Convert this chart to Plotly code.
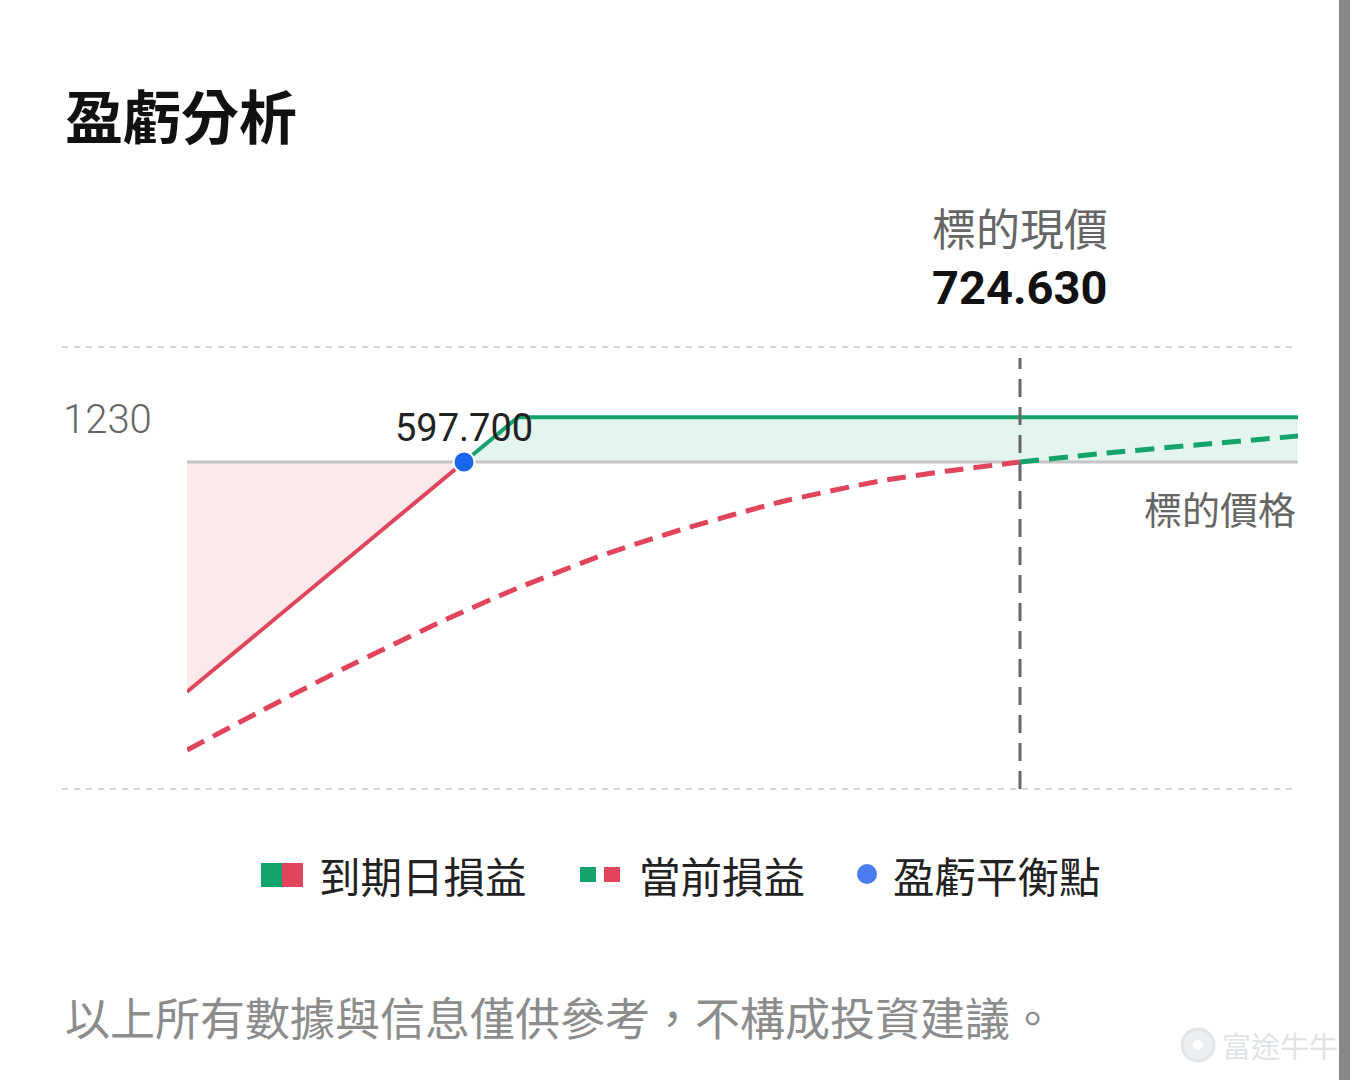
import plotly.graph_objects as go

# ---------------- data ----------------
x_min, x_max = 534.46, 788.1          # visible price range
y_min, y_max = -8998, 3165            # visible P&L range
breakeven = 597.7
spot = 724.63
max_profit = 1230

expiry_loss_price = [534.46, 597.7]
expiry_loss_pnl = [-6324, 0]
expiry_gain_price = [597.7, 610.0, 788.1]
expiry_gain_pnl = [0, 1230, 1230]

cur_loss_price = [534.5, 551.8, 571.0, 593.8, 608.9, 628.8, 647.0, 669.9, 692.7, 708.0, 724.63]
cur_loss_pnl = [-7925, -6824, -5641, -4321, -3522, -2587, -1871, -1101, -523, -248, 0]
cur_gain_price = [724.63, 744.5, 767.3, 788.1]
cur_gain_pnl = [0, 248, 495, 715]

title_text = "盈虧分析"
spot_label = "標的現價"
axis_label = "標的價格"
legend_labels = ["到期日損益", "當前損益", "盈虧平衡點"]
footer_text = "以上所有數據與信息僅供參考，不構成投資建議。"
watermark = "富途牛牛"

# ---------------- styles ----------------
RED = "#e0455c"
GREEN = "#14a36b"
BLUE = "#1a66ee"
CJK = "Noto Sans CJK TC"
NUM = "Roboto"

W, H = 1360, 1080
L, R, T, B = 187, 62, 347, 291
PW, PH = W - L - R, H - T - B


def xp(px):
    return (px - L) / PW


def yp(py):
    return (H - B - py) / PH


fig = go.Figure()

# fills
fig.add_trace(go.Scatter(x=expiry_loss_price, y=expiry_loss_pnl, fill="tozeroy",
                         fillcolor="#fce9eb", line=dict(width=0), mode="lines", hoverinfo="skip"))
fig.add_trace(go.Scatter(x=expiry_gain_price, y=expiry_gain_pnl, fill="tozeroy",
                         fillcolor="#e4f4ee", line=dict(width=0), mode="lines", hoverinfo="skip"))
# zero line
fig.add_trace(go.Scatter(x=[x_min, x_max], y=[0, 0], mode="lines",
                         line=dict(color="#c3c3c8", width=3), hoverinfo="skip"))
# expiry P&L
fig.add_trace(go.Scatter(x=expiry_loss_price, y=expiry_loss_pnl, mode="lines",
                         line=dict(color=RED, width=4)))
fig.add_trace(go.Scatter(x=expiry_gain_price, y=expiry_gain_pnl, mode="lines",
                         line=dict(color=GREEN, width=4)))
# current P&L
fig.add_trace(go.Scatter(x=cur_loss_price, y=cur_loss_pnl, mode="lines",
                         line=dict(color=RED, width=5, dash="19px,10px", shape="spline", smoothing=0.6)))
fig.add_trace(go.Scatter(x=cur_gain_price, y=cur_gain_pnl, mode="lines",
                         line=dict(color=GREEN, width=5, dash="19px,10px", shape="spline", smoothing=0.6)))
# breakeven
fig.add_trace(go.Scatter(x=[breakeven], y=[0], mode="markers",
                         marker=dict(color=BLUE, size=21, line=dict(color="white", width=2))))

shapes = []
# dotted grid lines top & bottom
for yy in (1, 0):
    shapes.append(dict(type="line", xref="paper", yref="paper", x0=xp(62), x1=1, y0=yy, y1=yy,
                       line=dict(color="#d6d6d6", width=2, dash="6px,6px")))
# spot vertical line
shapes.append(dict(type="line", xref="x", yref="paper", x0=spot, x1=spot, y0=0, y1=yp(358),
                   line=dict(color="#666666", width=3, dash="18px,10px")))
# legend icons
shapes.append(dict(type="rect", xref="paper", yref="paper", x0=xp(261), x1=xp(282), y0=yp(887), y1=yp(863),
                   fillcolor=GREEN, line=dict(width=0)))
shapes.append(dict(type="rect", xref="paper", yref="paper", x0=xp(282), x1=xp(303), y0=yp(887), y1=yp(863),
                   fillcolor=RED, line=dict(width=0)))
shapes.append(dict(type="rect", xref="paper", yref="paper", x0=xp(580), x1=xp(596), y0=yp(882), y1=yp(867),
                   fillcolor=GREEN, line=dict(width=0)))
shapes.append(dict(type="rect", xref="paper", yref="paper", x0=xp(604), x1=xp(620), y0=yp(882), y1=yp(867),
                   fillcolor=RED, line=dict(width=0)))
shapes.append(dict(type="circle", xref="paper", yref="paper", x0=xp(857), x1=xp(877), y0=yp(884), y1=yp(864),
                   fillcolor="#4a7cf0", line=dict(width=0)))
# watermark logo
shapes.append(dict(type="circle", xref="paper", yref="paper", x0=xp(1182), x1=xp(1214), y0=yp(1061), y1=yp(1029),
                   fillcolor="#eceef0", line=dict(color="#e2e5e8", width=3)))
shapes.append(dict(type="circle", xref="paper", yref="paper", x0=xp(1193), x1=xp(1203), y0=yp(1050), y1=yp(1040),
                   fillcolor="white", line=dict(width=0)))
# right scrollbar strip
shapes.append(dict(type="rect", xref="paper", yref="paper", x0=xp(1339), x1=xp(1350), y0=yp(1080), y1=yp(0),
                   fillcolor="#888888", line=dict(width=0)))

ann = []
ann.append(dict(text=title_text, xref="paper", yref="paper", x=xp(63), y=yp(114), xanchor="left", yanchor="middle",
                showarrow=False, font=dict(family=CJK, size=58, color="#111111", weight="bold")))
ann.append(dict(text=spot_label, xref="x", yref="paper", x=spot, y=yp(227), xanchor="center", yanchor="middle",
                showarrow=False, font=dict(family=CJK, size=44, color="#666666")))
ann.append(dict(text="%.3f" % spot, xref="x", yref="paper", x=spot, y=yp(287), xanchor="center", yanchor="middle",
                showarrow=False, font=dict(family=NUM, size=47, color="#111111", weight="bold")))
ann.append(dict(text=str(max_profit), xref="paper", yref="y", x=xp(61), y=max_profit, xanchor="left",
                yanchor="middle", yshift=-2, showarrow=False,
                font=dict(family=NUM, size=40, color="#666666", weight=300)))
ann.append(dict(text="%.3f" % breakeven, xref="x", yref="y", x=breakeven, y=0, yshift=34, xanchor="center",
                yanchor="middle", showarrow=False, font=dict(family=NUM, size=38, color="#222222")))
ann.append(dict(text=axis_label, xref="paper", yref="paper", x=xp(1298), y=yp(507), xanchor="right",
                yanchor="middle", showarrow=False, font=dict(family=CJK, size=38, color="#666666")))
for lbl, px in zip(legend_labels, (317, 637, 891)):
    ann.append(dict(text=lbl, xref="paper", yref="paper", x=xp(px), y=yp(875), xanchor="left", yanchor="middle",
                    showarrow=False, font=dict(family=CJK, size=41.5, color="#222222")))
ann.append(dict(text=footer_text, xref="paper", yref="paper", x=xp(63), y=yp(1016), xanchor="left",
                yanchor="middle", showarrow=False, font=dict(family=CJK, size=45, color="#8c8c8c")))
ann.append(dict(text=watermark, xref="paper", yref="paper", x=xp(1220), y=yp(1045), xanchor="left",
                yanchor="middle", showarrow=False, font=dict(family=CJK, size=29, color="#e0e3e6")))

fig.update_layout(
    width=W, height=H, autosize=False,
    margin=dict(l=L, r=R, t=T, b=B, pad=0),
    paper_bgcolor="white", plot_bgcolor="white",
    showlegend=False,
    xaxis=dict(range=[x_min, x_max], visible=False, fixedrange=True),
    yaxis=dict(range=[y_min, y_max], visible=False, fixedrange=True),
    shapes=shapes, annotations=ann,
)

fig.write_html("out.html", config=dict(displayModeBar=False))
